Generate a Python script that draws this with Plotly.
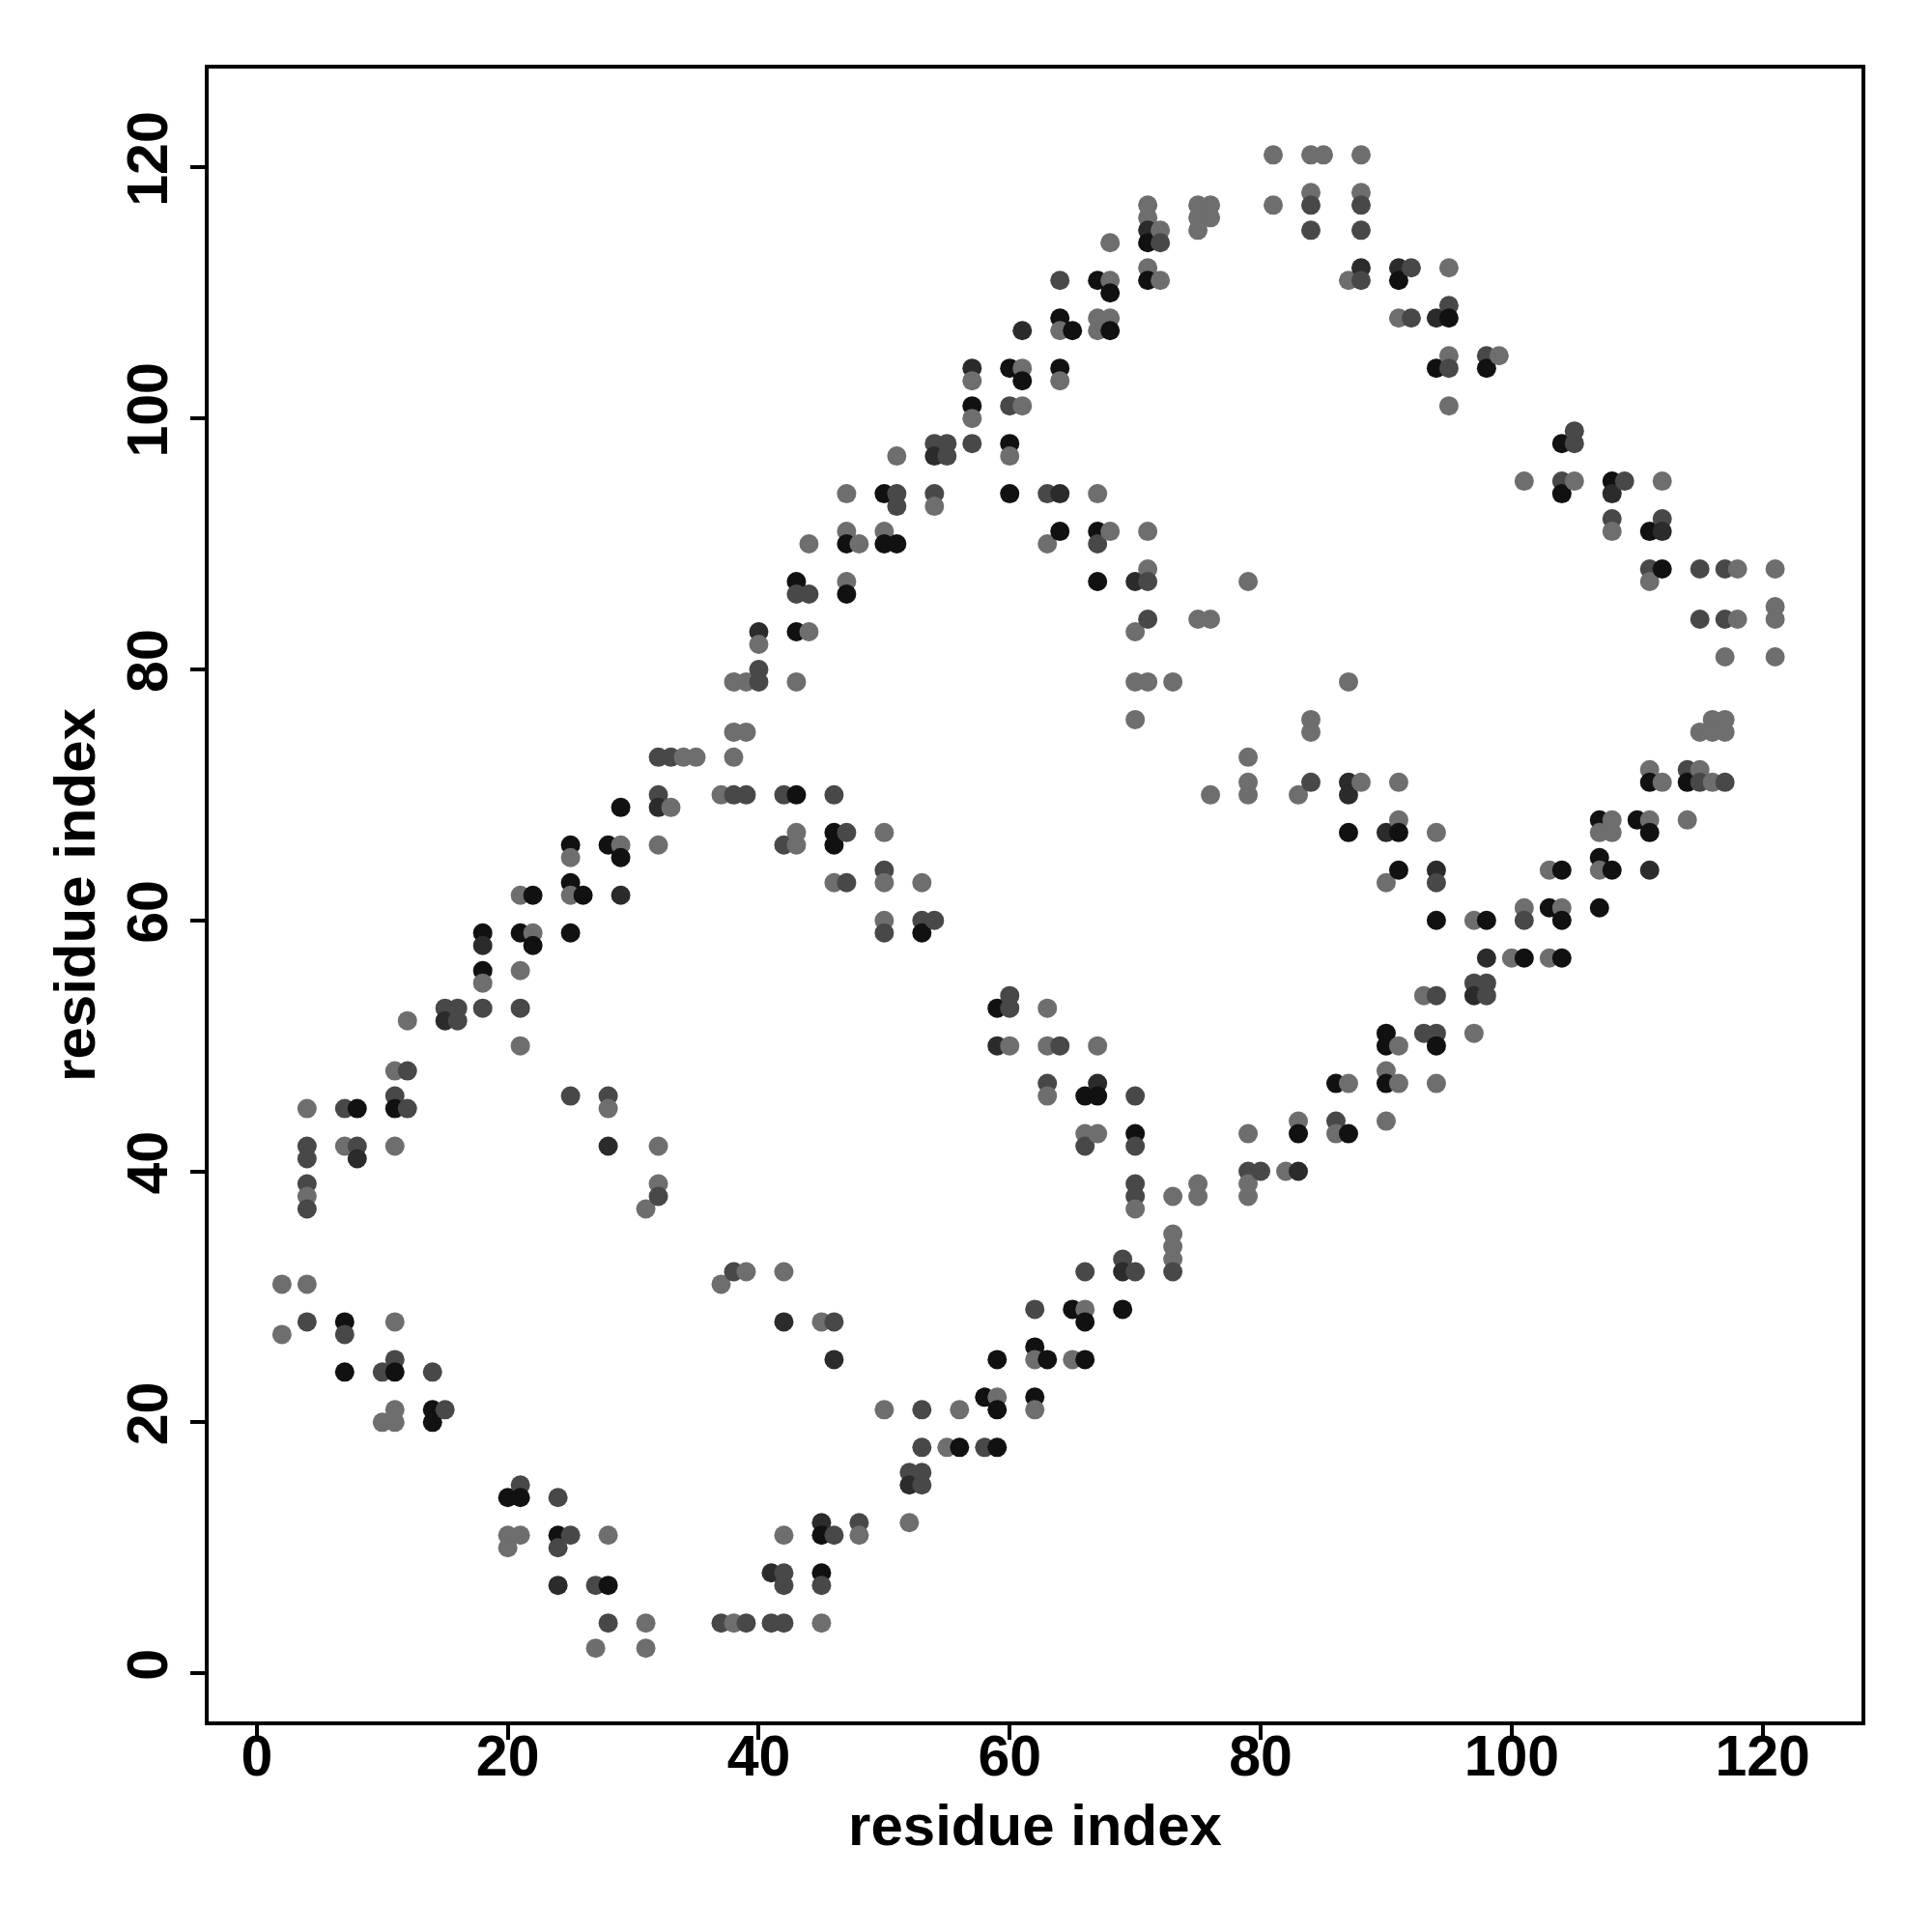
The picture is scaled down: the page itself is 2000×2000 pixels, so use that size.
import plotly.graph_objects as go

# contact map points: residue i, residue j, grey shade class
pts = [
 (2,31,'G'),(2,27,'G'),
 (4,45,'G'),(4,42,'D'),(4,41,'D'),(4,39,'D'),(4,38,'G'),(4,37,'D'),(4,31,'G'),(4,28,'D'),
 (7,45,'D'),(7,42,'G'),(7,28,'B'),(7,27,'D'),(7,24,'B'),
 (8,45,'B'),(8,42,'D'),(8,41,'K'),
 (10,24,'D'),(10,20,'G'),
 (11,48,'G'),(11,46,'D'),(11,45,'B'),(11,42,'G'),(11,28,'G'),(11,25,'D'),(11,24,'B'),(11,21,'G'),(11,20,'G'),
 (12,52,'G'),(12,48,'D'),(12,45,'D'),
 (14,24,'D'),(14,21,'B'),(14,20,'B'),
 (15,53,'D'),(15,52,'K'),(15,21,'D'),
 (16,53,'D'),(16,52,'D'),
 (18,59,'B'),(18,58,'K'),(18,56,'B'),(18,55,'G'),(18,53,'D'),
 (20,14,'B'),(20,11,'G'),(20,10,'G'),
 (21,62,'G'),(21,59,'B'),(21,56,'G'),(21,53,'D'),(21,50,'G'),(21,15,'D'),(21,14,'B'),(21,11,'G'),
 (22,62,'B'),(22,59,'G'),(22,58,'B'),
 (24,14,'D'),(24,11,'B'),(24,10,'D'),(24,7,'K'),
 (25,66,'B'),(25,65,'G'),(25,63,'B'),(25,62,'G'),(25,59,'B'),(25,46,'D'),(25,11,'D'),
 (26,62,'B'),
 (27,7,'D'),(27,2,'G'),
 (28,66,'B'),(28,46,'D'),(28,45,'G'),(28,42,'K'),(28,11,'G'),(28,7,'B'),(28,4,'D'),
 (29,69,'B'),(29,66,'G'),(29,65,'B'),(29,62,'K'),
 (31,37,'G'),(31,4,'G'),(31,2,'G'),
 (32,73,'D'),(32,70,'D'),(32,69,'K'),(32,66,'G'),(32,42,'G'),(32,39,'G'),(32,38,'D'),
 (33,73,'D'),(33,69,'G'),
 (34,73,'G'),(35,73,'G'),
 (37,70,'G'),(37,31,'G'),(37,4,'D'),
 (38,79,'G'),(38,75,'G'),(38,73,'G'),(38,70,'D'),(38,32,'D'),(38,4,'G'),
 (39,79,'G'),(39,75,'G'),(39,70,'D'),(39,32,'G'),(39,4,'D'),
 (40,83,'K'),(40,82,'G'),(40,80,'D'),(40,79,'D'),
 (41,8,'K'),(41,4,'D'),
 (42,70,'D'),(42,66,'D'),(42,32,'G'),(42,28,'K'),(42,11,'G'),(42,8,'D'),(42,7,'D'),(42,4,'D'),
 (43,87,'B'),(43,86,'D'),(43,83,'B'),(43,79,'G'),(43,70,'B'),(43,67,'G'),(43,66,'G'),
 (44,90,'G'),(44,86,'D'),(44,83,'G'),
 (45,28,'G'),(45,12,'K'),(45,11,'B'),(45,8,'B'),(45,7,'D'),(45,4,'G'),
 (46,70,'D'),(46,67,'B'),(46,66,'B'),(46,63,'G'),(46,28,'D'),(46,25,'K'),(46,11,'D'),
 (47,94,'G'),(47,91,'G'),(47,90,'B'),(47,87,'G'),(47,86,'B'),(47,67,'D'),(47,63,'D'),
 (48,90,'G'),(48,12,'D'),(48,11,'G'),
 (50,94,'B'),(50,91,'G'),(50,90,'B'),(50,67,'G'),(50,64,'D'),(50,63,'G'),(50,60,'G'),(50,59,'D'),(50,21,'G'),
 (51,97,'G'),(51,94,'D'),(51,93,'D'),(51,90,'B'),
 (52,16,'D'),(52,15,'K'),(52,12,'G'),
 (53,63,'G'),(53,60,'D'),(53,59,'B'),(53,21,'D'),(53,18,'D'),(53,16,'D'),(53,15,'D'),
 (54,98,'D'),(54,97,'K'),(54,94,'D'),(54,93,'G'),(54,60,'D'),
 (55,98,'D'),(55,97,'D'),(55,18,'G'),
 (56,21,'G'),(56,18,'B'),
 (57,104,'K'),(57,103,'G'),(57,101,'B'),(57,100,'G'),(57,98,'D'),
 (58,22,'B'),(58,18,'D'),
 (59,53,'B'),(59,50,'K'),(59,25,'B'),(59,22,'G'),(59,21,'B'),(59,18,'B'),
 (60,104,'B'),(60,101,'D'),(60,98,'B'),(60,97,'G'),(60,94,'B'),(60,54,'D'),(60,53,'D'),(60,50,'G'),
 (61,107,'K'),(61,104,'G'),(61,103,'B'),(61,101,'G'),
 (62,29,'D'),(62,26,'B'),(62,25,'G'),(62,22,'B'),(62,21,'G'),
 (63,94,'D'),(63,90,'G'),(63,53,'G'),(63,50,'G'),(63,47,'D'),(63,46,'G'),(63,25,'B'),
 (64,111,'D'),(64,108,'B'),(64,107,'G'),(64,104,'B'),(64,103,'G'),(64,94,'K'),(64,91,'B'),(64,50,'D'),
 (65,107,'B'),(65,29,'B'),(65,25,'G'),
 (66,46,'B'),(66,43,'G'),(66,42,'D'),(66,32,'D'),(66,29,'G'),(66,28,'B'),(66,25,'B'),
 (67,111,'B'),(67,108,'G'),(67,107,'G'),(67,94,'G'),(67,91,'B'),(67,90,'D'),(67,87,'B'),(67,50,'G'),(67,47,'K'),(67,46,'B'),(67,43,'G'),
 (68,114,'G'),(68,111,'G'),(68,110,'B'),(68,108,'G'),(68,107,'B'),(68,91,'G'),
 (69,33,'D'),(69,32,'K'),(69,29,'B'),
 (70,87,'K'),(70,83,'G'),(70,79,'G'),(70,76,'G'),(70,46,'D'),(70,43,'B'),(70,42,'D'),(70,39,'D'),(70,38,'D'),(70,37,'G'),(70,32,'D'),
 (71,117,'G'),(71,116,'G'),(71,115,'K'),(71,114,'B'),(71,112,'G'),(71,111,'B'),(71,91,'G'),(71,88,'G'),(71,87,'D'),(71,84,'D'),(71,79,'G'),
 (72,115,'G'),(72,114,'D'),(72,111,'G'),
 (73,79,'G'),(73,38,'G'),(73,35,'G'),(73,34,'G'),(73,33,'G'),(73,32,'D'),
 (75,117,'G'),(75,116,'G'),(75,115,'G'),(75,84,'G'),(75,39,'G'),(75,38,'G'),
 (76,117,'G'),(76,116,'G'),(76,84,'G'),(76,70,'G'),
 (79,87,'G'),(79,73,'G'),(79,71,'G'),(79,70,'G'),(79,43,'G'),(79,40,'D'),(79,39,'G'),(79,38,'G'),
 (80,40,'D'),
 (81,121,'G'),(81,117,'G'),
 (82,40,'G'),
 (83,70,'G'),(83,44,'G'),(83,43,'B'),(83,40,'K'),
 (84,121,'G'),(84,118,'G'),(84,117,'D'),(84,115,'D'),(84,76,'G'),(84,75,'G'),(84,71,'D'),
 (85,121,'G'),
 (86,47,'B'),(86,44,'D'),(86,43,'G'),
 (87,111,'G'),(87,79,'G'),(87,71,'K'),(87,70,'K'),(87,67,'B'),(87,47,'G'),(87,43,'B'),
 (88,121,'G'),(88,118,'G'),(88,117,'D'),(88,115,'D'),(88,112,'K'),(88,111,'D'),(88,71,'G'),
 (90,67,'K'),(90,63,'G'),(90,51,'B'),(90,50,'B'),(90,48,'G'),(90,47,'B'),(90,44,'G'),
 (91,112,'K'),(91,111,'B'),(91,108,'G'),(91,71,'G'),(91,68,'G'),(91,67,'B'),(91,64,'B'),(91,50,'G'),(91,47,'G'),
 (92,112,'D'),(92,108,'D'),
 (93,54,'G'),(93,51,'D'),
 (94,108,'K'),(94,104,'B'),(94,67,'G'),(94,64,'K'),(94,63,'D'),(94,60,'B'),(94,54,'D'),(94,51,'D'),(94,50,'B'),(94,47,'G'),
 (95,112,'G'),(95,109,'D'),(95,108,'B'),(95,105,'G'),(95,104,'D'),(95,101,'G'),
 (97,60,'G'),(97,55,'D'),(97,54,'K'),(97,51,'G'),
 (98,105,'D'),(98,104,'B'),(98,60,'B'),(98,57,'K'),(98,55,'D'),(98,54,'D'),
 (99,105,'G'),
 (100,57,'G'),
 (101,95,'G'),(101,61,'G'),(101,60,'D'),(101,57,'B'),
 (103,64,'G'),(103,61,'B'),(103,57,'G'),
 (104,98,'B'),(104,95,'D'),(104,94,'B'),(104,64,'B'),(104,61,'G'),(104,60,'B'),(104,57,'B'),
 (105,99,'D'),(105,98,'D'),(105,95,'G'),
 (107,68,'B'),(107,67,'G'),(107,65,'B'),(107,64,'G'),(107,61,'B'),
 (108,95,'B'),(108,94,'K'),(108,92,'D'),(108,91,'G'),(108,68,'G'),(108,67,'G'),(108,64,'B'),
 (109,95,'D'),
 (110,68,'B'),
 (111,91,'B'),(111,88,'D'),(111,87,'G'),(111,72,'G'),(111,71,'B'),(111,68,'G'),(111,67,'B'),(111,64,'K'),
 (112,95,'G'),(112,92,'D'),(112,91,'K'),(112,88,'B'),(112,71,'G'),
 (114,72,'D'),(114,71,'B'),(114,68,'G'),
 (115,88,'D'),(115,84,'D'),(115,75,'G'),(115,72,'G'),(115,71,'D'),
 (116,76,'G'),(116,75,'G'),(116,71,'G'),
 (117,88,'D'),(117,84,'D'),(117,81,'G'),(117,76,'G'),(117,75,'G'),(117,71,'D'),
 (118,88,'G'),(118,84,'G'),
 (121,88,'G'),(121,85,'G'),(121,84,'G'),(121,81,'G'),
]

residue_i = [p[0] for p in pts]
residue_j = [p[1] for p in pts]
shade = [p[2] for p in pts]
shade_colors = {'B': '#111111', 'K': '#2b2b2b', 'D': '#484848', 'G': '#6e6e6e'}

tick_vals = [0, 20, 40, 60, 80, 100, 120]
tick_text = ['0', '20', '40', '60', '80', '100', '120']

font_family = "Liberation Sans, Arial, Helvetica, sans-serif"

fig = go.Figure()
fig.add_trace(go.Scatter(
    x=residue_i, y=residue_j, mode='markers',
    marker=dict(size=20, color=[shade_colors[s] for s in shade], line=dict(width=0)),
    showlegend=False, hoverinfo='x+y'))

axis_common = dict(
    tickvals=tick_vals, ticktext=tick_text, ticks='outside', ticklen=15, tickwidth=4,
    tickcolor='black', showline=True, linecolor='black', linewidth=4, mirror=True,
    showgrid=False, zeroline=False,
    tickfont=dict(family=font_family, size=59, color='black', weight='bold'),
    range=[-3.84, 127.88],
)

fig.update_layout(
    width=2000, height=2000,
    margin=dict(l=208, r=81, t=63, b=226),
    paper_bgcolor='white', plot_bgcolor='white',
    xaxis=dict(**axis_common, ticklabelstandoff=-34,
               title=dict(text='residue index', standoff=19,
                          font=dict(family=font_family, size=60, color='black', weight='bold'))),
    yaxis=dict(**axis_common, tickangle=-90, ticklabelstandoff=0,
               title=dict(text='residue index', standoff=3,
                          font=dict(family=font_family, size=60, color='black', weight='bold'))),
)

fig.write_html("out.html")
